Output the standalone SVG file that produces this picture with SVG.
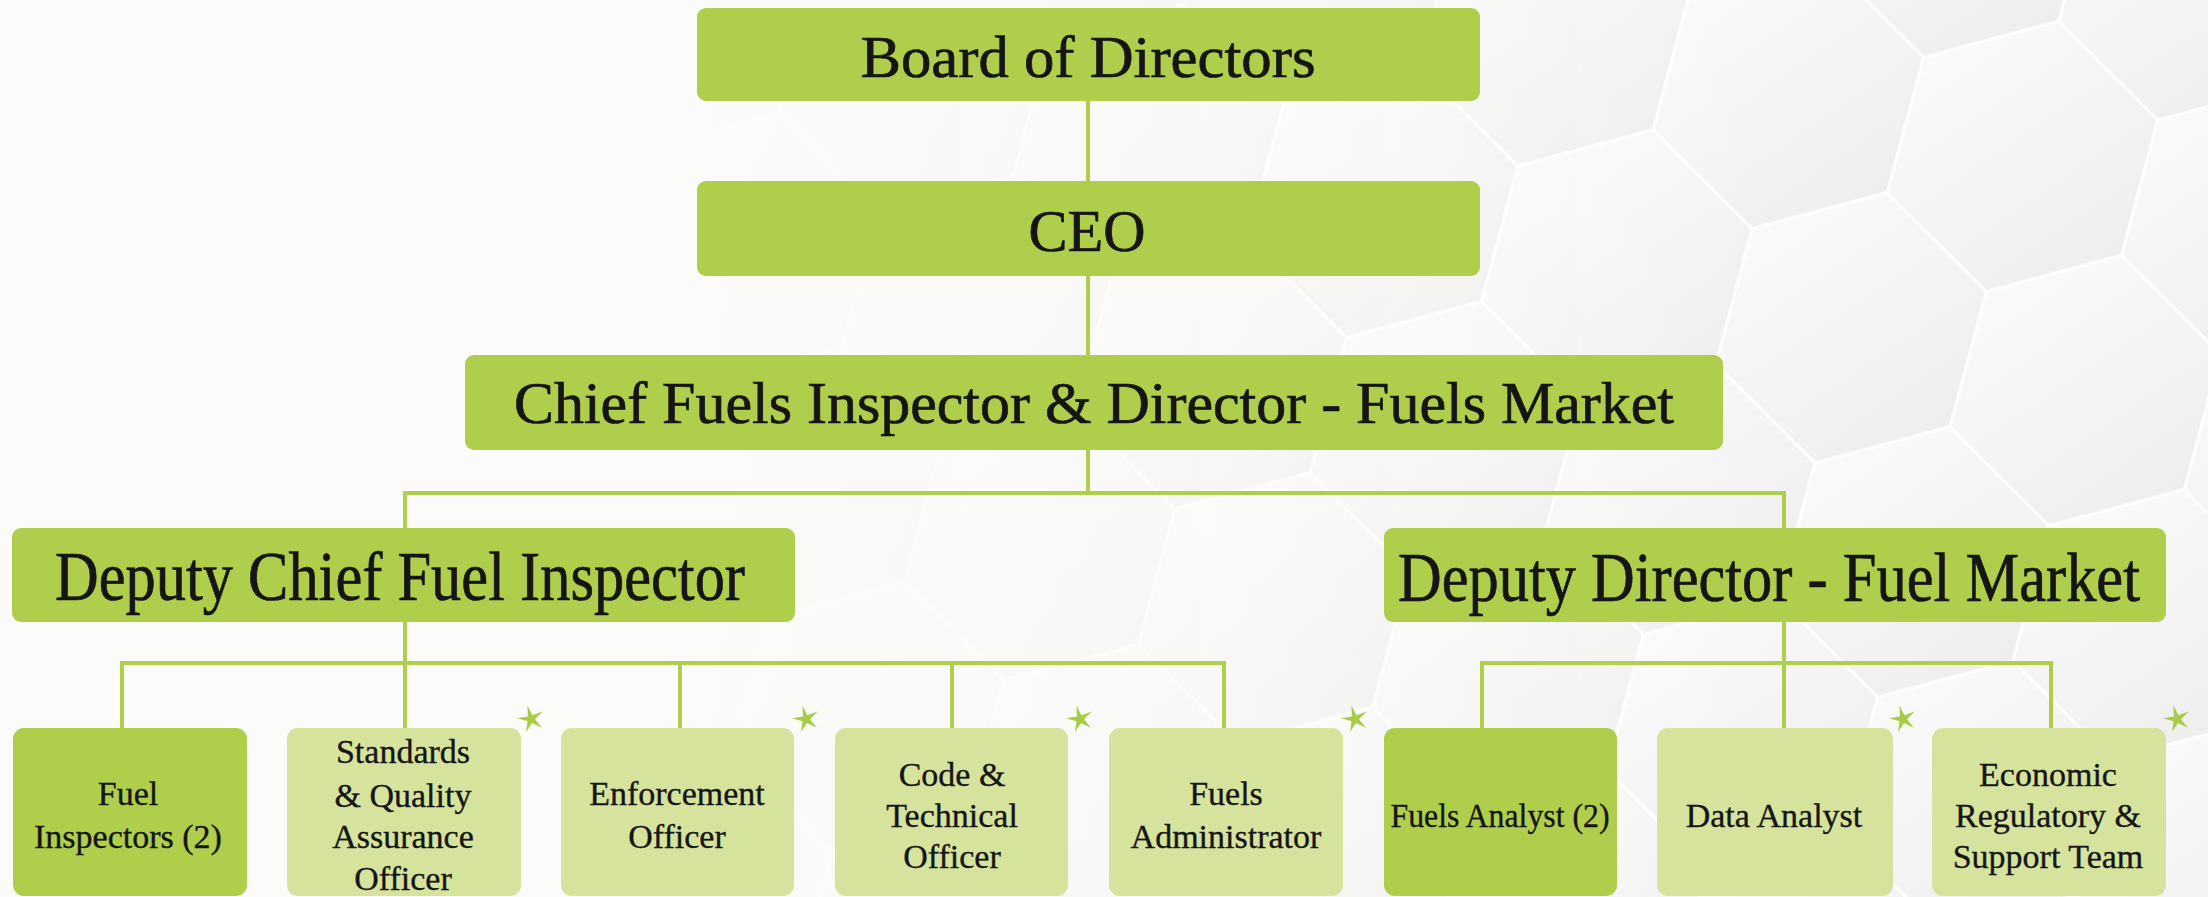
<svg xmlns="http://www.w3.org/2000/svg" width="2208" height="897" viewBox="0 0 2208 897">
  <defs>
    <style>
      .box-dark { fill: #AFCE4B; }
      .box-light { fill: #D6E39D; }
      .title { font-family: "Liberation Serif", "DejaVu Serif", serif; font-size: 60px; fill: #151515; stroke: #151515; stroke-width: 0.7; text-anchor: middle; }
      .deputy { font-family: "Liberation Serif", "DejaVu Serif", serif; font-size: 70px; fill: #151515; stroke: #151515; stroke-width: 0.7; text-anchor: middle; }
      .role { font-family: "Liberation Serif", "DejaVu Serif", serif; font-size: 34px; fill: #151515; stroke: #151515; stroke-width: 0.35; text-anchor: middle; }
      .link { stroke: #AFCE4B; stroke-width: 4; fill: none; }
      .star { fill: #A9CB45; }
    </style>
    <linearGradient id="cellShade" x1="0" y1="0" x2="1" y2="1">
      <stop offset="0" stop-color="#FCFCFC"/>
      <stop offset="1" stop-color="#ECECEC"/>
    </linearGradient>
    <polygon id="hex" points="0,-140 121.24,-70 121.24,70 0,140 -121.24,70 -121.24,-70" fill="url(#cellShade)" stroke="#FFFFFF" stroke-width="3"/>
    <pattern id="honeycomb" patternUnits="userSpaceOnUse" x="0" y="0" width="242.49" height="420" patternTransform="translate(40,60) rotate(15)">
      <use href="#hex" x="0" y="0"/>
      <use href="#hex" x="242.49" y="0"/>
      <use href="#hex" x="121.24" y="210"/>
      <use href="#hex" x="0" y="420"/>
      <use href="#hex" x="242.49" y="420"/>
    </pattern>
    <linearGradient id="fadeRamp" x1="0" y1="0" x2="1" y2="0">
      <stop offset="0" stop-color="#000000"/>
      <stop offset="0.3" stop-color="#000000"/>
      <stop offset="0.5" stop-color="#4D4D4D"/>
      <stop offset="0.8" stop-color="#FFFFFF"/>
      <stop offset="1" stop-color="#FFFFFF"/>
    </linearGradient>
    <mask id="fadeMask" maskUnits="userSpaceOnUse" x="0" y="0" width="2208" height="897">
      <rect x="0" y="0" width="2208" height="897" fill="url(#fadeRamp)"/>
    </mask>
    <path id="spark" d="M-3.6,-13.5 L1.4,-3.7 L11.7,-7.6 L4,0.2 L10.9,8.8 L1,3.9 L-5,13.1 L-3.4,2.2 L-14,-0.7 L-3.1,-2.5 Z"/>
  </defs>

  <!-- background with honeycomb texture fading in towards the right -->
  <rect x="0" y="0" width="2208" height="897" fill="#FBFBF9"/>
  <rect x="0" y="0" width="2208" height="897" fill="url(#honeycomb)" mask="url(#fadeMask)"/>

  <!-- connectors -->
  <g id="connectors">
    <path class="link" d="M1088,101 V181 M1088,276 V355 M1088,450 V493"/>
    <path class="link" d="M405,528 V493 H1784 V528"/>
    <path class="link" d="M405,622 V663 M122,728 V663 H1224 V728 M680,663 V728 M952,663 V728 M405,663 V728"/>
    <path class="link" d="M1784,622 V728 M1482,728 V663 H2051 V728"/>
  </g>

  <g id="board">
    <rect class="box-dark" x="697" y="8" width="783" height="93" rx="9"/>
    <text class="title" x="1088" y="77" textLength="455" lengthAdjust="spacingAndGlyphs">Board of Directors</text>
  </g>

  <g id="ceo">
    <rect class="box-dark" x="697" y="181" width="783" height="95" rx="9"/>
    <text class="title" x="1087" y="251" textLength="117" lengthAdjust="spacingAndGlyphs">CEO</text>
  </g>

  <g id="chief-fuels-inspector">
    <rect class="box-dark" x="465" y="355" width="1258" height="95" rx="9"/>
    <text class="title" x="1094" y="423" textLength="1160" lengthAdjust="spacingAndGlyphs">Chief Fuels Inspector &amp; Director - Fuels Market</text>
  </g>

  <g id="deputy-chief-fuel-inspector">
    <rect class="box-dark" x="12" y="528" width="783" height="94" rx="9"/>
    <text class="deputy" x="400" y="600" textLength="690" lengthAdjust="spacingAndGlyphs">Deputy Chief Fuel Inspector</text>
  </g>

  <g id="deputy-director-fuel-market">
    <rect class="box-dark" x="1384" y="528" width="782" height="94" rx="9"/>
    <text class="deputy" x="1769" y="601" textLength="742" lengthAdjust="spacingAndGlyphs">Deputy Director - Fuel Market</text>
  </g>

  <g id="fuel-inspectors">
    <rect class="box-dark" x="13" y="728" width="234" height="168" rx="11"/>
    <text class="role" x="128" y="805">Fuel</text>
    <text class="role" x="128" y="848">Inspectors (2)</text>
  </g>

  <g id="standards-quality-assurance-officer">
    <rect class="box-light" x="287" y="728" width="234" height="168" rx="11"/>
    <text class="role" x="403" y="763">Standards</text>
    <text class="role" x="403" y="807">&amp; Quality</text>
    <text class="role" x="403" y="848">Assurance</text>
    <text class="role" x="403" y="890">Officer</text>
    <use href="#spark" class="star" x="531" y="719"/>
  </g>

  <g id="enforcement-officer">
    <rect class="box-light" x="561" y="728" width="233" height="168" rx="11"/>
    <text class="role" x="677" y="805">Enforcement</text>
    <text class="role" x="677" y="848">Officer</text>
    <use href="#spark" class="star" x="806" y="719"/>
  </g>

  <g id="code-technical-officer">
    <rect class="box-light" x="835" y="728" width="233" height="168" rx="11"/>
    <text class="role" x="952" y="786">Code &amp;</text>
    <text class="role" x="952" y="827">Technical</text>
    <text class="role" x="952" y="868">Officer</text>
    <use href="#spark" class="star" x="1080" y="719"/>
  </g>

  <g id="fuels-administrator">
    <rect class="box-light" x="1109" y="728" width="234" height="168" rx="11"/>
    <text class="role" x="1226" y="805">Fuels</text>
    <text class="role" x="1226" y="848">Administrator</text>
    <use href="#spark" class="star" x="1355" y="719"/>
  </g>

  <g id="fuels-analyst">
    <rect class="box-dark" x="1384" y="728" width="233" height="168" rx="11"/>
    <text class="role" x="1500" y="827" textLength="219" lengthAdjust="spacingAndGlyphs">Fuels Analyst (2)</text>
  </g>

  <g id="data-analyst">
    <rect class="box-light" x="1657" y="728" width="236" height="168" rx="11"/>
    <text class="role" x="1774" y="827">Data Analyst</text>
    <use href="#spark" class="star" x="1903" y="719"/>
  </g>

  <g id="economic-regulatory-support-team">
    <rect class="box-light" x="1932" y="728" width="234" height="168" rx="11"/>
    <text class="role" x="2048" y="786">Economic</text>
    <text class="role" x="2048" y="827">Regulatory &amp;</text>
    <text class="role" x="2048" y="868">Support Team</text>
    <use href="#spark" class="star" x="2177" y="719"/>
  </g>
</svg>
